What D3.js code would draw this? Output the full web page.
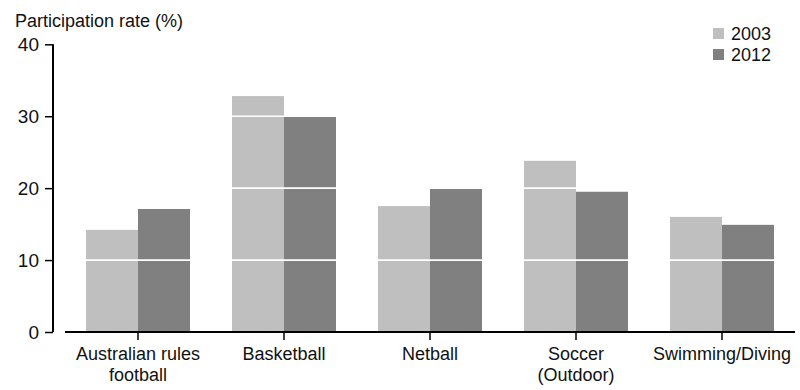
<!DOCTYPE html>
<html>
<head>
<meta charset="utf-8">
<script src="https://cdn.jsdelivr.net/npm/d3@7"></script>
<style>
  html, body { margin: 0; padding: 0; background: #fff; }
  svg { display: block; font-family: "Liberation Sans", Arial, sans-serif; }
</style>
</head>
<body>
<svg id="chart" width="800" height="390"></svg>
<script>
// Participation rate (%) by sport, 2003 vs 2012
const categories = ["Australian rules|football", "Basketball", "Netball", "Soccer|(Outdoor)", "Swimming/Diving"];
const years = ["2003", "2012"];
const values2003 = [14.2, 32.8, 17.5, 23.8, 16.0];
const values2012 = [17.1, 29.9, 19.9, 19.5, 14.9];
const yTicks = [0, 10, 20, 30, 40];
const colors = ["#bfbfbf", "#808080"];

const svg = d3.select("#chart");

const y = d3.scaleLinear().domain([0, 40]).range([332, 44.3]);
const x = d3.scaleBand().domain(categories).range([65, 795]).paddingInner(0).paddingOuter(0);
const xInner = d3.scaleBand().domain(years).range([21, x.bandwidth() - 21]).padding(0);

const rows = categories.map((c, i) => ({ cat: c, vals: [values2003[i], values2012[i]] }));

// bars
const groups = svg.append("g").selectAll("g")
  .data(rows).join("g")
  .attr("transform", d => `translate(${x(d.cat)},0)`);

groups.selectAll("rect")
  .data(d => d.vals.map((v, k) => ({ year: years[k], v, k })))
  .join("rect")
  .attr("x", d => xInner(d.year))
  .attr("width", xInner.bandwidth())
  .attr("y", d => y(d.v))
  .attr("height", d => y(0) - y(d.v))
  .attr("fill", d => colors[d.k]);

// white gridlines across the bars
svg.append("g").selectAll("line")
  .data(yTicks.filter(t => t > 0 && t < 40)).join("line")
  .attr("x1", 66).attr("x2", 795)
  .attr("y1", d => y(d)).attr("y2", d => y(d))
  .attr("stroke", "#fff").attr("stroke-width", 1.6);

// y axis
const yAxis = svg.append("g").attr("transform", "translate(53,0)")
  .call(d3.axisLeft(y).tickValues(yTicks).tickSize(8).tickPadding(6).tickFormat(d3.format("d")));
yAxis.select(".domain").attr("d", `M0,${y(40)}V${y(0)}`).attr("stroke", "#000").attr("stroke-width", 2);
yAxis.selectAll(".tick line").attr("stroke", "#000").attr("stroke-width", 1.5);
yAxis.selectAll(".tick text")
  .attr("font-size", 19).attr("fill", "#111")
  .attr("font-family", "Liberation Sans, Arial, sans-serif");

// x axis
const xAxis = svg.append("g").attr("transform", `translate(0,${y(0)})`)
  .call(d3.axisBottom(x).tickSize(8).tickFormat(""));
xAxis.select(".domain").attr("d", "M65,0H795").attr("stroke", "#000").attr("stroke-width", 2.2);
xAxis.selectAll(".tick line").attr("stroke", "#000").attr("stroke-width", 1.5);
xAxis.selectAll(".tick").each(function(d) {
  const lines = d.split("|");
  const t = d3.select(this).append("text")
    .attr("text-anchor", "middle").attr("fill", "#111").attr("font-size", 18);
  lines.forEach((ln, i) => {
    t.append("tspan").attr("x", 0).attr("y", 28 + i * 21).text(ln);
  });
});

// y axis title
svg.append("text")
  .attr("x", 15).attr("y", 27)
  .attr("font-size", 18).attr("fill", "#111")
  .text("Participation rate (%)");

// legend
const legend = svg.append("g").selectAll("g")
  .data(years).join("g")
  .attr("transform", (d, i) => `translate(713,${28 + i * 21})`);
legend.append("rect").attr("width", 11).attr("height", 11).attr("fill", (d, i) => colors[i]);
legend.append("text").attr("x", 18).attr("y", 11.5)
  .attr("font-size", 18).attr("fill", "#111").text(d => d);
</script>
</body>
</html>
